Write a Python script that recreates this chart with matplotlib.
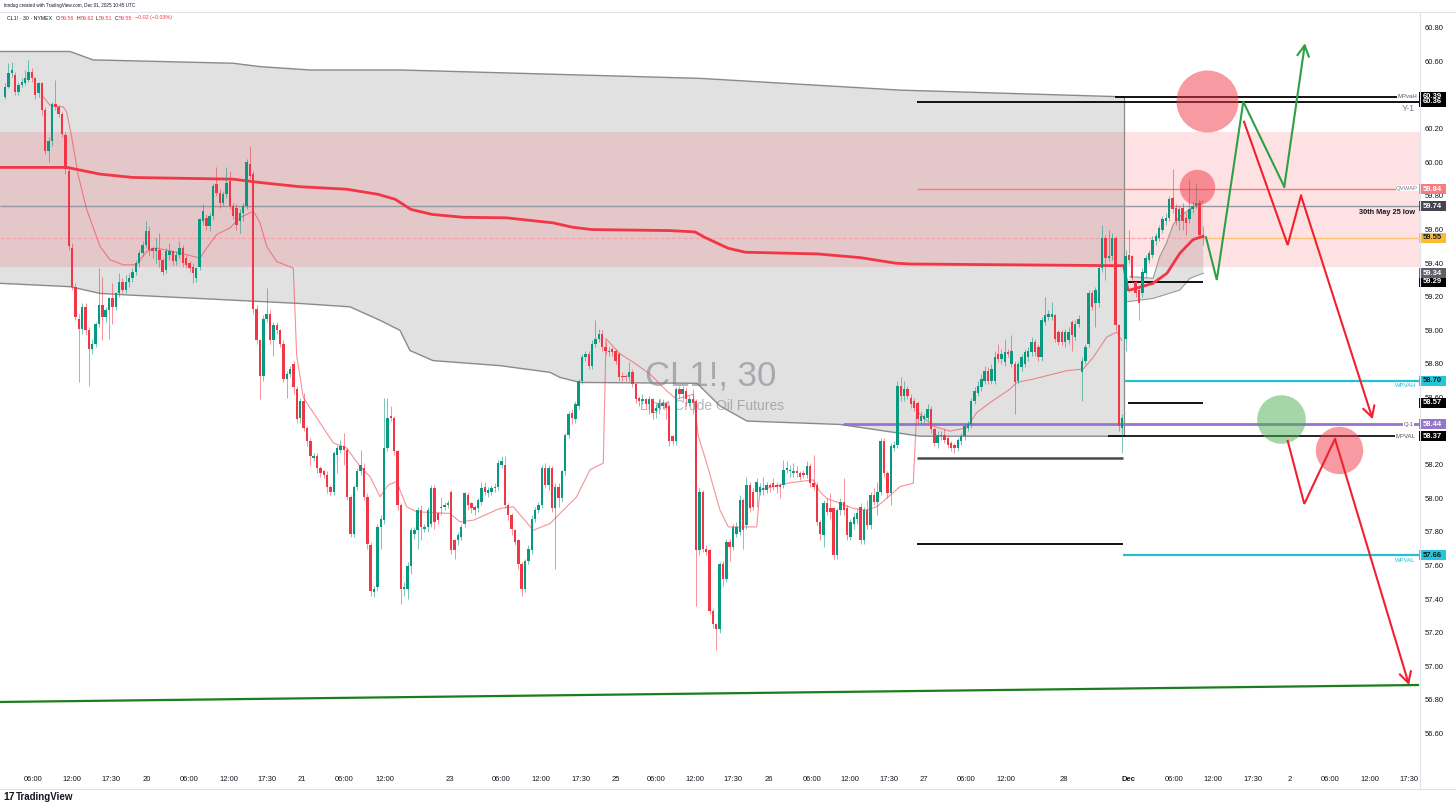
import matplotlib
matplotlib.use("Agg")
import matplotlib.pyplot as plt
import matplotlib.transforms as mtrans
from matplotlib.patches import Rectangle
import numpy as np

plt.rcParams['font.family'] = ['Liberation Sans', 'DejaVu Sans']

# ---- CL1! 30 min candles ----
O = [60.39, 60.45, 60.53, 60.52, 60.42, 60.46, 60.47, 60.49, 60.54, 60.50,
     60.41, 60.47, 60.31, 60.07, 60.13, 60.35, 60.33, 60.29, 60.16, 59.95,
     59.49, 59.26, 59.07, 59.01, 59.14, 59.00, 58.89, 58.92, 59.04, 59.15,
     59.08, 59.12, 59.19, 59.14, 59.22, 59.29, 59.24, 59.29, 59.31, 59.35,
     59.40, 59.46, 59.51, 59.59, 59.49, 59.47, 59.48, 59.42, 59.36, 59.45,
     59.47, 59.41, 59.45, 59.49, 59.43, 59.40, 59.38, 59.31, 59.38, 59.65,
     59.67, 59.62, 59.68, 59.87, 59.82, 59.76, 59.81, 59.89, 59.74, 59.73,
     59.65, 59.70, 59.74, 59.99, 59.93, 59.13, 58.94, 58.73, 59.07, 59.10,
     58.94, 59.03, 59.00, 58.92, 58.71, 58.74, 58.80, 58.65, 58.48, 58.58,
     58.42, 58.34, 58.24, 58.25, 58.18, 58.16, 58.14, 58.07, 58.04, 58.26,
     58.29, 58.31, 58.29, 58.01, 57.79, 58.07, 58.16, 58.18, 58.01, 57.72,
     57.44, 57.47, 57.83, 57.87, 58.30, 58.49, 58.48, 58.28, 57.96, 57.46,
     57.46, 57.60, 57.79, 57.81, 57.93, 57.82, 57.83, 57.85, 58.06, 57.91,
     57.95, 57.95, 57.96, 58.04, 57.75, 57.75, 57.77, 57.85, 58.02, 57.97,
     57.95, 57.94, 57.98, 58.07, 58.03, 58.04, 58.06, 58.07, 58.20, 58.20,
     57.96, 57.90, 57.81, 57.75, 57.61, 57.46, 57.63, 57.69, 57.88, 57.93,
     57.96, 58.18, 58.08, 58.18, 57.94, 58.07, 58.00, 58.16, 58.38, 58.51,
     58.47, 58.55, 58.70, 58.84, 58.86, 58.79, 58.92, 58.95, 58.98, 58.90,
     58.88, 58.89, 58.88, 58.86, 58.73, 58.73, 58.72, 58.75, 58.68, 58.60,
     58.58, 58.59, 58.56, 58.59, 58.52, 58.54, 58.55, 58.57, 58.55, 58.37,
     58.34, 58.65, 58.62, 58.64, 58.57, 58.59, 58.58, 57.69, 58.04, 57.70,
     57.69, 57.33, 57.25, 57.22, 57.61, 57.52, 57.74, 57.71, 57.79, 57.80,
     57.99, 57.84, 58.08, 58.04, 58.04, 58.04, 58.05, 58.05, 58.08, 58.09,
     58.08, 58.08, 58.08, 58.17, 58.16, 58.15, 58.16, 58.15, 58.15, 58.14,
     58.19, 58.09, 58.08, 57.86, 57.78, 57.97, 57.94, 57.94, 57.66, 57.93,
     57.98, 57.94, 57.77, 57.85, 57.88, 57.95, 57.75, 57.93, 57.84, 58.02,
     57.98, 58.04, 58.34, 58.15, 58.03, 58.30, 58.32, 58.67, 58.61, 58.65,
     58.60, 58.58, 58.57, 58.46, 58.47, 58.48, 58.53, 58.41, 58.33, 58.37,
     58.38, 58.36, 58.33, 58.32, 58.30, 58.34, 58.37, 58.42, 58.44, 58.58,
     58.63, 58.66, 58.70, 58.76, 58.70, 58.70, 58.86, 58.83, 58.81, 58.87,
     58.80, 58.80, 58.70, 58.78, 58.80, 58.84, 58.87, 58.93, 58.90, 58.84,
     59.05, 59.08, 59.08, 59.09, 58.99, 58.99, 58.93, 58.94, 59.05, 58.96,
     59.04, 58.75, 58.82, 58.92, 59.22, 59.16, 59.16, 59.37, 59.55, 59.43,
     59.44, 59.55, 59.03, 58.42, 58.95, 59.45, 59.44, 59.29, 59.24, 59.22,
     59.34, 59.42, 59.45, 59.53, 59.55, 59.60, 59.65, 59.67, 59.79, 59.73,
     59.65, 59.73, 59.67, 59.66, 59.72, 59.74, 59.76, 59.56]
H = [60.47, 60.59, 60.60, 60.54, 60.48, 60.50, 60.55, 60.61, 60.56, 60.51,
     60.48, 60.48, 60.33, 60.15, 60.36, 60.49, 60.34, 60.30, 60.18, 59.97,
     59.52, 59.28, 59.10, 59.16, 59.16, 59.02, 58.95, 59.05, 59.37, 59.32,
     59.14, 59.20, 59.28, 59.23, 59.34, 59.31, 59.33, 59.34, 59.37, 59.42,
     59.48, 59.53, 59.65, 59.62, 59.50, 59.55, 59.58, 59.43, 59.49, 59.52,
     59.48, 59.47, 59.53, 59.51, 59.45, 59.41, 59.40, 59.38, 59.67, 59.75,
     59.69, 59.70, 59.88, 59.97, 59.84, 59.83, 59.97, 59.95, 59.76, 59.75,
     59.72, 59.76, 60.02, 60.10, 59.95, 59.15, 58.95, 59.09, 59.25, 59.12,
     59.05, 59.05, 59.01, 58.94, 58.76, 58.79, 58.82, 58.67, 58.60, 58.63,
     58.43, 58.36, 58.27, 58.27, 58.19, 58.17, 58.16, 58.08, 58.28, 58.32,
     58.35, 58.39, 58.30, 58.02, 58.08, 58.18, 58.29, 58.21, 58.03, 57.74,
     57.48, 57.85, 57.90, 58.60, 58.60, 58.55, 58.49, 58.29, 57.97, 57.50,
     57.62, 57.83, 57.83, 57.95, 57.96, 57.85, 57.95, 58.08, 58.08, 57.92,
     58.01, 57.98, 57.99, 58.05, 57.76, 57.80, 57.85, 58.04, 58.04, 57.98,
     57.96, 58.00, 58.10, 58.10, 58.07, 58.08, 58.09, 58.23, 58.25, 58.25,
     57.97, 57.91, 57.82, 57.76, 57.62, 57.64, 57.72, 57.90, 57.95, 57.98,
     58.20, 58.21, 58.20, 58.19, 58.09, 58.09, 58.17, 58.39, 58.52, 58.53,
     58.58, 58.71, 58.86, 58.88, 58.88, 58.94, 59.06, 59.01, 59.00, 58.93,
     58.90, 58.90, 58.89, 58.87, 58.75, 58.74, 58.81, 58.77, 58.69, 58.61,
     58.62, 58.60, 58.61, 58.60, 58.56, 58.59, 58.59, 58.58, 58.56, 58.38,
     58.66, 58.67, 58.67, 58.66, 58.61, 58.65, 58.59, 58.06, 58.05, 57.72,
     57.70, 57.34, 57.26, 57.62, 57.63, 57.76, 57.76, 57.85, 57.86, 58.02,
     58.00, 58.13, 58.10, 58.06, 58.12, 58.09, 58.13, 58.10, 58.09, 58.12,
     58.10, 58.09, 58.23, 58.22, 58.20, 58.21, 58.19, 58.16, 58.17, 58.22,
     58.21, 58.26, 58.10, 57.87, 57.99, 58.00, 58.03, 57.95, 57.94, 58.00,
     58.12, 57.96, 57.88, 57.91, 57.94, 57.97, 57.95, 57.99, 58.04, 58.06,
     58.10, 58.36, 58.36, 58.16, 58.33, 58.34, 58.70, 58.72, 58.70, 58.67,
     58.62, 58.60, 58.58, 58.52, 58.51, 58.56, 58.55, 58.42, 58.40, 58.40,
     58.41, 58.38, 58.34, 58.33, 58.36, 58.39, 58.45, 58.46, 58.60, 58.66,
     58.70, 58.74, 58.79, 58.78, 58.80, 58.88, 58.92, 58.89, 58.95, 58.89,
     58.97, 58.82, 58.82, 58.86, 58.89, 58.90, 58.96, 58.95, 58.92, 59.08,
     59.20, 59.12, 59.17, 59.10, 59.00, 59.00, 59.01, 59.02, 59.06, 59.06,
     59.09, 58.84, 58.92, 59.24, 59.24, 59.26, 59.39, 59.63, 59.57, 59.60,
     59.58, 59.56, 59.04, 58.50, 59.48, 59.60, 59.45, 59.30, 59.26, 59.37,
     59.45, 59.48, 59.56, 59.58, 59.63, 59.68, 59.70, 59.80, 59.96, 59.75,
     59.74, 59.76, 59.70, 59.90, 59.77, 59.88, 59.78, 59.62]
L = [60.38, 60.44, 60.51, 60.40, 60.40, 60.45, 60.46, 60.48, 60.48, 60.38,
     60.39, 60.28, 60.05, 60.00, 60.10, 60.31, 60.27, 60.15, 59.93, 59.48,
     59.24, 59.06, 58.69, 58.98, 58.97, 58.67, 58.86, 58.90, 59.02, 58.94,
     59.05, 58.95, 59.04, 59.12, 59.20, 59.22, 59.22, 59.26, 59.29, 59.33,
     59.38, 59.44, 59.49, 59.44, 59.43, 59.40, 59.38, 59.33, 59.34, 59.42,
     59.39, 59.39, 59.43, 59.38, 59.37, 59.35, 59.28, 59.29, 59.36, 59.63,
     59.60, 59.59, 59.66, 59.80, 59.73, 59.74, 59.79, 59.72, 59.66, 59.60,
     59.58, 59.65, 59.72, 59.90, 59.10, 58.92, 58.59, 58.70, 59.05, 58.92,
     58.85, 58.98, 58.90, 58.69, 58.60, 58.72, 58.62, 58.45, 58.45, 58.40,
     58.31, 58.20, 58.22, 58.15, 58.13, 58.12, 58.03, 58.02, 58.02, 58.15,
     58.27, 58.20, 57.99, 57.77, 57.77, 58.05, 58.14, 57.99, 57.70, 57.42,
     57.41, 57.45, 57.70, 57.85, 58.28, 58.46, 58.26, 57.93, 57.37, 57.42,
     57.40, 57.55, 57.76, 57.70, 57.75, 57.80, 57.80, 57.83, 57.82, 57.85,
     57.90, 57.93, 57.94, 57.67, 57.64, 57.72, 57.75, 57.83, 57.93, 57.91,
     57.90, 57.92, 57.96, 58.02, 58.01, 58.02, 58.04, 58.05, 58.18, 57.94,
     57.87, 57.78, 57.72, 57.58, 57.42, 57.44, 57.61, 57.67, 57.86, 57.91,
     57.94, 58.06, 58.05, 57.92, 57.58, 57.95, 57.98, 58.14, 58.36, 58.44,
     58.45, 58.53, 58.68, 58.82, 58.77, 58.77, 58.90, 58.93, 58.88, 58.86,
     58.85, 58.85, 58.80, 58.70, 58.70, 58.70, 58.70, 58.66, 58.57, 58.55,
     58.56, 58.53, 58.50, 58.47, 58.48, 58.50, 58.53, 58.47, 58.31, 58.32,
     58.32, 58.60, 58.58, 58.55, 58.55, 58.50, 57.36, 57.66, 57.68, 57.66,
     57.31, 57.23, 57.10, 57.20, 57.48, 57.50, 57.63, 57.69, 57.77, 57.78,
     57.70, 57.82, 57.92, 57.93, 57.95, 58.02, 58.02, 58.03, 58.04, 58.05,
     58.03, 58.00, 58.06, 58.15, 58.13, 58.13, 58.13, 58.11, 58.12, 58.12,
     58.07, 58.05, 57.84, 57.75, 57.71, 57.90, 57.88, 57.64, 57.64, 57.90,
     57.90, 57.75, 57.75, 57.82, 57.85, 57.73, 57.73, 57.82, 57.82, 57.96,
     57.90, 58.02, 58.13, 58.00, 57.96, 58.28, 58.30, 58.58, 58.58, 58.59,
     58.54, 58.52, 58.45, 58.44, 58.45, 58.46, 58.39, 58.31, 58.30, 58.35,
     58.33, 58.30, 58.28, 58.27, 58.28, 58.32, 58.35, 58.40, 58.42, 58.56,
     58.61, 58.64, 58.68, 58.68, 58.68, 58.68, 58.81, 58.80, 58.79, 58.84,
     58.78, 58.50, 58.68, 58.76, 58.78, 58.82, 58.85, 58.85, 58.82, 58.82,
     59.03, 59.06, 59.06, 58.93, 58.91, 58.91, 58.90, 58.92, 58.88, 58.94,
     59.02, 58.58, 58.80, 58.90, 59.12, 59.02, 59.14, 59.35, 59.30, 59.41,
     59.42, 59.00, 58.40, 58.27, 58.88, 59.40, 59.29, 59.20, 59.06, 59.20,
     59.32, 59.40, 59.43, 59.51, 59.53, 59.58, 59.63, 59.65, 59.70, 59.63,
     59.60, 59.60, 59.57, 59.64, 59.70, 59.73, 59.55, 59.51]
C = [60.45, 60.53, 60.55, 60.42, 60.46, 60.48, 60.50, 60.54, 60.50, 60.40,
     60.47, 60.31, 60.07, 60.13, 60.35, 60.33, 60.29, 60.17, 59.96, 59.50,
     59.26, 59.08, 59.01, 59.14, 59.00, 58.89, 58.92, 59.04, 59.15, 59.08,
     59.12, 59.19, 59.14, 59.22, 59.29, 59.24, 59.29, 59.31, 59.35, 59.40,
     59.46, 59.51, 59.59, 59.48, 59.47, 59.49, 59.42, 59.35, 59.47, 59.47,
     59.41, 59.45, 59.49, 59.40, 59.39, 59.37, 59.34, 59.37, 59.66, 59.71,
     59.62, 59.68, 59.86, 59.82, 59.76, 59.81, 59.88, 59.74, 59.68, 59.63,
     59.70, 59.74, 60.00, 59.92, 59.13, 58.94, 58.73, 59.07, 59.10, 58.94,
     59.03, 59.00, 58.92, 58.71, 58.74, 58.77, 58.66, 58.47, 58.58, 58.42,
     58.34, 58.25, 58.25, 58.18, 58.15, 58.14, 58.07, 58.04, 58.27, 58.30,
     58.31, 58.29, 58.01, 57.79, 58.07, 58.16, 58.20, 58.01, 57.73, 57.45,
     57.46, 57.83, 57.88, 58.30, 58.48, 58.48, 58.28, 57.96, 57.46, 57.47,
     57.60, 57.81, 57.81, 57.93, 57.83, 57.83, 57.93, 58.06, 57.86, 57.87,
     57.94, 57.96, 57.97, 57.69, 57.69, 57.78, 57.83, 58.03, 57.96, 57.94,
     57.93, 57.99, 58.06, 58.04, 58.05, 58.06, 58.07, 58.21, 58.22, 57.96,
     57.90, 57.82, 57.74, 57.61, 57.46, 57.63, 57.70, 57.88, 57.93, 57.96,
     58.18, 58.08, 58.18, 57.94, 58.07, 58.00, 58.16, 58.38, 58.50, 58.48,
     58.56, 58.70, 58.84, 58.86, 58.79, 58.92, 58.95, 58.98, 58.90, 58.88,
     58.87, 58.87, 58.82, 58.72, 58.72, 58.72, 58.75, 58.68, 58.59, 58.58,
     58.59, 58.56, 58.59, 58.51, 58.54, 58.57, 58.57, 58.54, 58.34, 58.34,
     58.65, 58.62, 58.65, 58.59, 58.59, 58.57, 57.69, 58.04, 57.70, 57.68,
     57.33, 57.25, 57.22, 57.61, 57.52, 57.74, 57.71, 57.83, 57.83, 57.99,
     57.81, 58.08, 57.94, 57.95, 58.10, 58.07, 58.06, 58.08, 58.07, 58.07,
     58.07, 58.07, 58.17, 58.18, 58.17, 58.16, 58.15, 58.13, 58.14, 58.19,
     58.09, 58.07, 57.86, 57.79, 57.97, 57.92, 57.92, 57.66, 57.93, 57.98,
     57.93, 57.78, 57.86, 57.89, 57.91, 57.75, 57.93, 57.84, 58.02, 57.98,
     58.04, 58.34, 58.15, 58.03, 58.31, 58.32, 58.67, 58.61, 58.65, 58.61,
     58.56, 58.54, 58.47, 58.49, 58.49, 58.53, 58.41, 58.33, 58.38, 58.38,
     58.35, 58.32, 58.30, 58.30, 58.35, 58.37, 58.43, 58.44, 58.58, 58.64,
     58.67, 58.71, 58.76, 58.70, 58.77, 58.84, 58.83, 58.86, 58.87, 58.86,
     58.88, 58.69, 58.80, 58.84, 58.87, 58.88, 58.93, 58.87, 58.84, 59.06,
     59.09, 59.10, 59.10, 58.95, 58.93, 58.93, 58.99, 58.99, 58.97, 59.04,
     59.07, 58.82, 58.90, 59.22, 59.14, 59.24, 59.37, 59.55, 59.43, 59.44,
     59.55, 59.03, 58.43, 58.48, 59.44, 59.42, 59.31, 59.22, 59.16, 59.35,
     59.43, 59.46, 59.54, 59.56, 59.61, 59.66, 59.67, 59.78, 59.72, 59.65,
     59.72, 59.65, 59.64, 59.72, 59.74, 59.76, 59.57, 59.55]

# time axis (bar index) labels
xtick_pos = [8.5, 20.0, 31.5, 42.3, 54.8, 66.6, 78.1, 88.5, 101.0, 113.3,
             132.6, 148.0, 159.8, 171.7, 182.1, 194.0, 205.7, 217.0, 227.7,
             240.5, 251.9, 263.5, 273.9, 286.4, 298.4, 315.6, 335.0, 348.4,
             360.0, 372.0, 383.0, 394.9, 406.8, 418.4]
xtick_lab = ['06:00', '12:00', '17:30', '20', '06:00', '12:00', '17:30', '21',
             '06:00', '12:00', '23', '06:00', '12:00', '17:30', '25', '06:00',
             '12:00', '17:30', '26', '06:00', '12:00', '17:30', '27', '06:00',
             '12:00', '28', 'Dec', '06:00', '12:00', '17:30', '2', '06:00',
             '12:00', '17:30']
# price scale ticks (those fully hidden behind level boxes are left out)
ytick_vals = [56.60, 56.80, 57.00, 57.20, 57.40, 57.60, 57.80, 58.00, 58.20,
              58.60, 58.80, 59.00, 59.20, 59.40, 59.60, 59.80, 60.00, 60.20,
              60.60, 60.80]

# weekly value-area band (grey) and VWAP lines
band_up_x = [-1.49, 19.37, 26.23, 67.96, 76.0, 90.91, 117.73, 207.15, 266.77, 333.53]
band_up_y = [60.66, 60.66, 60.61, 60.59, 60.57, 60.55, 60.55, 60.50, 60.43, 60.39]
band_lo_x = [-1.49, 19.37, 28.32, 37.26, 87.93, 102.83, 111.77, 117.73, 120.7, 127.57,
             147.54, 162.44, 165.42, 171.39, 206.26, 213.11, 221.16, 248.88, 272.73, 333.53]
band_lo_y = [59.28, 59.26, 59.22, 59.21, 59.16, 59.14, 59.06, 59.00, 58.88, 58.82,
             58.79, 58.75, 58.72, 58.69, 58.685, 58.55, 58.46, 58.44, 58.37, 58.37]
dec_up_x = [335.3, 342.2, 344.2, 346.2, 348.2, 350.2, 356.2, 357.1]
dec_up_y = [59.32, 59.31, 59.44, 59.52, 59.63, 59.68, 59.76, 59.77]
dec_lo_x = [334.33, 342.2, 350.2, 353.2, 357.2]
dec_lo_y = [59.17, 59.19, 59.24, 59.31, 59.34]

vwap_x = [-1.49, 18.48, 28.32, 38.15, 67.96, 76.0, 87.93, 101.85, 111.12, 116.33,
          120.98, 127.36, 136.63, 149.33, 163.31, 169.12, 174.9, 198.09, 205.66,
          208.55, 215.5, 220.7, 242.17, 254.93, 265.37, 269.75, 332.34, 333.5,
          334.7, 335.32, 342.18, 346.35, 350.22, 354.1, 357.08]
vwap_y = [59.97, 59.97, 59.93, 59.91, 59.90, 59.88, 59.855, 59.84, 59.81, 59.78,
          59.72, 59.69, 59.673, 59.67, 59.64, 59.614, 59.60, 59.594, 59.586,
          59.554, 59.489, 59.465, 59.455, 59.433, 59.40, 59.395, 59.385, 59.385,
          59.24, 59.24, 59.28, 59.34, 59.46, 59.54, 59.56]

svwap_x = [11.42, 13.41, 17.38, 18.39, 19.88, 21.85, 24.35, 28.32, 31.3, 35.26,
           39.25, 42.24, 45.22, 52.16, 58.12, 60.12, 63.1, 67.06, 70.04, 74.01,
           76.0, 78.0, 80.98, 85.93, 86.94, 88.91, 91.89, 93.89, 97.85, 101.85,
           105.81, 108.79, 111.77, 114.25, 116.75, 119.73, 122.71, 132.64, 135.62,
           139.58, 147.54, 151.5, 157.47, 162.44, 165.42, 170.4, 174.37, 178.33,
           179.14, 183.31, 187.27, 192.25, 197.23, 200.21, 205.16, 206.65, 209.15,
           211.12, 213.11, 215.59, 224.05, 225.04, 232.99, 240.92, 242.92, 244.92,
           252.85, 256.84, 259.82, 262.8, 266.77, 270.73, 271.74, 276.6, 281.67,
           286.65, 289.63, 293.59, 299.55, 301.55, 306.5, 316.45, 321.4, 324.38,
           328.38, 331.36, 332.85]
svwap_y = [60.39, 60.34, 60.33, 60.30, 60.15, 59.92, 59.72, 59.50, 59.42, 59.39,
           59.39, 59.47, 59.49, 59.46, 59.43, 59.49, 59.57, 59.61, 59.67, 59.71,
           59.64, 59.50, 59.41, 59.37, 58.85, 58.60, 58.51, 58.45, 58.33, 58.30,
           58.19, 58.13, 58.01, 58.08, 58.10, 57.95, 57.92, 57.91, 57.86,
           57.87, 57.94, 57.95, 57.81, 57.85, 57.91, 58.01, 58.17, 58.21,
           58.95, 58.86, 58.81, 58.74, 58.64, 58.59, 58.62, 58.37, 58.21,
           58.07, 57.93, 57.83, 57.83, 58.05, 58.09, 58.11, 58.04, 58.00,
           57.94, 57.93, 57.95, 58.00, 58.07, 58.09, 58.52, 58.43, 58.40,
           58.42, 58.51, 58.57, 58.65, 58.69, 58.71, 58.76, 58.77, 58.84,
           58.96, 58.99, 58.94]

# pink supply zone
zone_x = [-1.49, 421.76]
zone_lo, zone_hi = 59.379, 60.179

# horizontal levels: price, start bar, end bar, colour, width, style
levels = [
    (60.39, 330.85, 414.9, '#000000', 1.3, '-'),
    (60.36, 271.83, 421.76, '#000000', 1.3, '-'),
    (59.84, 271.83, 414.9, '#f77c80', 1.0, '-'),
    (59.74, -1.49, 421.76, '#9598a1', 1.0, '-'),
    (59.55, -1.49, 357.68, '#f4a3a8', 0.8, '--'),
    (59.55, 357.68, 421.76, '#ffc374', 1.0, '-'),
    (59.29, 334.72, 357.08, '#000000', 1.3, '-'),
    (58.70, 333.83, 421.76, '#22c1d6', 1.6, '-'),
    (58.57, 334.72, 357.08, '#000000', 1.3, '-'),
    (58.44, 249.78, 421.76, '#9575cd', 2.0, '-'),
    (58.37, 328.76, 414.9, '#000000', 1.2, '-'),
    (58.24, 271.83, 333.23, '#4a4a4a', 1.8, '-'),
    (57.73, 271.83, 333.23, '#000000', 1.3, '-'),
    (57.66, 333.23, 421.76, '#22c1d6', 1.6, '-'),
]
trend_x = [-1.49, 421.16]
trend_y = [56.788, 56.889]

# small labels at the right end of the levels
line_tags = [
    (417.9, 60.39, 'MPvaH', '#555555'),
    (417.9, 59.846, 'QVWAP', '#787b86'),
    (418.3, 58.44, 'Q-1', '#555555'),
    (417.5, 58.37, 'MPVAL', '#555555'),
]
under_tags = [
    (417.5, 58.672, 'WPVAH', '#22c1d6'),
    (417.5, 57.632, 'WPVAL', '#22c1d6'),
]

# price scale boxes: price, text, fill, text colour
boxes = [
    (60.36, '60.36', '#000000', 'white'),
    (60.39, '60.39', '#000000', 'white'),
    (59.84, '59.84', '#f77c80', 'white'),
    (59.74, '59.74', '#434651', 'white'),
    (59.55, '59.55', '#f9bd35', '#131722'),
    (59.29, '59.29', '#000000', 'white'),
    (59.34, '59.34', '#5d606b', 'white'),
    (58.70, '58.70', '#26c6da', '#131722'),
    (58.57, '58.57', '#000000', 'white'),
    (58.44, '58.44', '#9575cd', 'white'),
    (58.37, '58.37', '#000000', 'white'),
    (57.66, '57.66', '#26c6da', '#131722'),
]

# projected paths and highlight circles
green_path = [(357.97, 59.554), (361.19, 59.30), (369.09, 60.361), (381.31, 59.855), (387.48, 60.709)]
red_path1 = [(369.3, 60.242), (382.33, 59.508), (386.29, 59.802), (407.66, 58.471)]
red_path2 = [(382.33, 58.342), (387.27, 57.967), (396.42, 58.354), (418.5, 56.889)]
circles = [  # bar, price, radius px, colour
    (358.36, 60.367, 31.0, '#f23645'),
    (355.38, 59.855, 17.7, '#f23645'),
    (380.33, 58.473, 24.3, '#4caf50'),
    (397.52, 58.288, 23.7, '#f23645'),
]

UP, DOWN = '#089981', '#f23645'
W, Hh = 1456, 808

fig = plt.figure(figsize=(W / 100, Hh / 100), dpi=100)
ax = fig.add_axes([0, (Hh - 768) / Hh, 1420 / W, (768 - 12) / Hh])
ax.set_xlim(-1.49, 421.76)
ax.set_ylim(56.395, 60.895)
for s in ax.spines.values():
    s.set_visible(False)

# grey band
ax.fill(np.r_[band_up_x, band_lo_x[::-1]], np.r_[band_up_y, band_lo_y[::-1]],
        color='#e1e1e1', lw=0, zorder=1)
ax.plot(band_up_x, band_up_y, color='#8a8a8a', lw=1.0, zorder=2)
ax.plot(band_lo_x, band_lo_y, color='#8a8a8a', lw=1.0, zorder=2)
ax.vlines(333.53, 58.37, 60.39, color='#8a8a8a', lw=0.9, zorder=2)
ax.fill(np.r_[dec_up_x, dec_lo_x[::-1]], np.r_[dec_up_y, dec_lo_y[::-1]],
        color='#e1e1e1', lw=0, zorder=1)
ax.plot(dec_up_x, dec_up_y, color='#9a9a9a', lw=0.8, zorder=2)
ax.plot(dec_lo_x, dec_lo_y, color='#9a9a9a', lw=0.8, zorder=2)

# pink zone
ax.fill_between(zone_x, zone_lo, zone_hi, color='#f23645', alpha=0.15, lw=0, zorder=1.5)

# levels
for p, x0, x1, col, lw, ls in levels:
    ax.hlines(p, x0, x1, colors=col, lw=lw, linestyles=ls, zorder=3)
ax.plot(trend_x, trend_y, color='#1b7d1b', lw=1.6, zorder=3)

# vwap lines
ax.plot(vwap_x, vwap_y, color='#f23645', lw=2.0, zorder=4)
ax.plot(svwap_x, svwap_y, color='#f23645', lw=0.8, alpha=0.55, zorder=4)

# candles
O, H, L, C = map(np.array, (O, H, L, C))
n = min(len(O), len(H), len(L), len(C))
xs = np.arange(n)
cols = np.where(C[:n] >= O[:n], UP, DOWN)
ax.vlines(xs, L[:n], H[:n], colors=cols, lw=0.7, alpha=0.55, zorder=5)
body = C[:n] - O[:n]
body = np.where(np.abs(body) < 0.008, np.where(body < 0, -0.008, 0.008), body)
ax.bar(xs, body, bottom=O[:n], width=0.72, color=cols, lw=0, zorder=5.5)

# circles (round on screen)
for cx, cy, r, col in circles:
    d_pt = 2 * r * 72 / 100
    ax.scatter([cx], [cy], s=d_pt ** 2, color=col, alpha=0.5, lw=0, zorder=7)

# projection paths with arrow heads
for path, col in [(green_path, '#2ea043'), (red_path1, '#f2202f'), (red_path2, '#f2202f')]:
    px = [p[0] for p in path]
    py = [p[1] for p in path]
    ax.plot(px[:-1], py[:-1], color=col, lw=1.5, zorder=8, solid_joinstyle='miter')
    ax.annotate('', xy=path[-1], xytext=path[-2],
                arrowprops=dict(arrowstyle='->,head_length=0.55,head_width=0.3',
                                color=col, lw=1.5, shrinkA=0, shrinkB=0,
                                mutation_scale=14), zorder=8)

# level tags
for x, p, t, col in line_tags:
    ax.text(x, p, t, fontsize=4.3, color=col, ha='center', va='center', zorder=6,
            bbox=dict(facecolor='white', edgecolor='none', pad=0.4))
for x, p, t, col in under_tags:
    ax.text(x, p, t, fontsize=4.3, color=col, ha='center', va='center', zorder=6)
ax.text(418.3, 60.32, 'Y-1', fontsize=6.5, color='#787b86', ha='center', va='center', zorder=6)
ax.text(420.3, 59.703, '30th May 25 low', fontsize=5.3, color='#131722', ha='right',
        va='center', fontweight='bold', zorder=6)

# watermark
ax.text(0.5007, 0.5185, 'CL1!, 30', transform=ax.transAxes, fontsize=25,
        color='#787b86', alpha=0.55, ha='center', va='center', zorder=4.5)
ax.text(0.5014, 0.4788, 'Light Crude Oil Futures', transform=ax.transAxes, fontsize=10,
        color='#787b86', alpha=0.55, ha='center', va='center', zorder=4.5)

# axes ticks
ax.yaxis.tick_right()
ax.set_yticks(ytick_vals)
ax.set_yticklabels([f'{v:.2f}' for v in ytick_vals])
ax.tick_params(axis='y', length=0, pad=3.2, labelsize=5.5, labelcolor='#131722')
ax.set_xticks(xtick_pos)
ax.set_xticklabels(xtick_lab)
ax.tick_params(axis='x', length=0, pad=5.5, labelsize=5.5, labelcolor='#131722')
for lab in ax.get_xticklabels():
    if lab.get_text() == 'Dec':
        lab.set_fontweight('bold')

# price scale boxes
trans = mtrans.blended_transform_factory(ax.transAxes, ax.transData)
bh = 10 / 168
for p, t, fc, tc in boxes:
    ax.add_patch(Rectangle((1419 / 1420, p - bh / 2), 27 / 1420, bh, transform=trans,
                           facecolor=fc, edgecolor='none', clip_on=False, zorder=9))
    ax.text(1432.5 / 1420, p, t, transform=trans, fontsize=5.5, color=tc,
            fontweight='bold', ha='center', va='center', clip_on=False, zorder=10)

# frame lines and header
fig.add_artist(plt.Line2D([0, 1], [1 - 12 / Hh, 1 - 12 / Hh], color='#e0e3eb', lw=0.8))
fig.add_artist(plt.Line2D([0, 1], [1 - 789 / Hh, 1 - 789 / Hh], color='#e0e3eb', lw=0.8))
fig.add_artist(plt.Line2D([1420 / W, 1420 / W], [1 - 789 / Hh, 1 - 12 / Hh],
                          color='#e0e3eb', lw=0.8))


def ft(px, py, s, **kw):
    return fig.text(px / W, 1 - py / Hh, s, va='center', ha='left', **kw)


ft(4, 6, 'timdug created with TradingView.com, Dec 01, 2025 10:45 UTC', fontsize=3.3, color='#131722')

# legend line: pieces placed one after another
renderer = fig.canvas.get_renderer()
hdr = [('CL1! · 30 · NYMEX', '#131722', 4.0), ('O', '#131722', 0.6), ('59.56', DOWN, 2.0),
       ('H', '#131722', 0.6), ('59.62', DOWN, 2.0), ('L', '#131722', 0.6), ('59.51', DOWN, 2.0),
       ('C', '#131722', 0.6), ('59.55', DOWN, 2.0), ('−0.02 (−0.03%)', DOWN, 0)]
xcur = 7.0
for s, c, gap in hdr:
    t = ft(xcur, 18, s, fontsize=3.8, color=c)
    bb = t.get_window_extent(renderer)
    xcur = bb.x1 + gap
ft(3, 797, '17', fontsize=7.5, color='#131722', fontweight='bold')
ft(16, 797, 'TradingView', fontsize=7, color='#131722', fontweight='bold')

fig.savefig('out.png', dpi=100)
